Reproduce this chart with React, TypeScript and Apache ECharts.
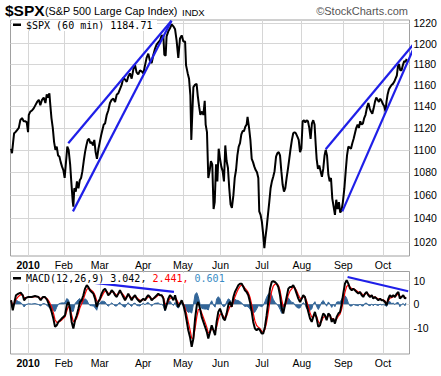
import React, { useEffect, useRef } from 'react';
import * as echarts from 'echarts';

// x unit: trading days since Jan 4 2010
const monthTicks = [0, 19, 38, 61, 82, 102, 124, 145, 167, 188];
const monthLabels = ['2010', 'Feb', 'Mar', 'Apr', 'May', 'Jun', 'Jul', 'Aug', 'Sep', 'Oct'];
const priceTicks = [1020, 1040, 1060, 1080, 1100, 1120, 1140, 1160, 1180, 1200, 1220];
const macdTicks = [-10, 0, 10];

const spxPrice: [number, number][] = [
  [-9.0,1101],[-8.5,1097],[-7.9,1107],[-7.4,1115],[-6.7,1116],[-5.8,1118],[-4.9,1120],[-4.1,1127],[-3.2,1129],[-2.3,1126],
  [-1.4,1126],[-0.7,1125],[0.0,1116],[0.4,1132],[1.2,1135],[2.1,1136],[3.0,1138],[3.9,1141],[4.8,1144],[5.7,1146],
  [6.5,1141],[7.4,1146],[8.3,1148],[9.2,1143],[9.9,1151],[10.6,1148],[11.3,1152],[11.8,1141],[12.4,1129],[13.1,1120],
  [13.8,1107],[14.5,1100],[15.2,1103],[15.9,1095],[16.6,1094],[17.3,1089],[18.0,1085],[18.7,1082],[19.4,1075],[20.1,1089],
  [20.8,1103],[21.5,1100],[22.3,1087],[22.9,1072],[23.7,1054],[24.0,1050],[24.5,1066],[25.3,1063],[25.9,1072],[26.7,1066],
  [27.4,1073],[28.1,1075],[28.8,1081],[29.5,1090],[30.2,1098],[30.9,1104],[31.6,1109],[32.3,1110],[33.0,1106],[33.7,1107],
  [34.4,1104],[35.1,1109],[35.8,1098],[36.5,1092],[37.3,1101],[38.0,1107],[38.7,1113],[39.4,1118],[40.1,1123],[40.8,1124],
  [41.7,1132],[42.5,1136],[43.4,1143],[44.3,1146],[45.2,1147],[46.1,1144],[47.0,1151],[47.8,1152],[48.7,1156],[49.6,1160],
  [50.5,1167],[51.4,1165],[52.3,1163],[53.1,1168],[54.0,1171],[54.9,1166],[55.8,1175],[56.7,1179],[57.5,1172],[58.4,1170],
  [59.3,1174],[60.2,1173],[61.1,1171],[62.0,1179],[62.8,1186],[63.7,1190],[64.6,1183],[65.5,1181],[66.4,1189],[67.3,1195],
  [68.1,1199],[69.0,1201],[69.9,1203],[70.8,1208],[71.7,1207],[72.2,1189],[72.9,1188],[73.4,1207],[74.3,1212],[75.2,1215],
  [76.1,1219],[77.0,1217],[77.9,1214],[78.7,1203],[79.6,1186],[80.5,1205],[81.4,1208],[82.3,1202],[83.2,1202],[83.7,1179],
  [84.6,1171],[85.3,1166],[86.0,1150],[86.5,1109],[87.0,1132],[87.6,1158],[88.4,1160],[89.3,1161],[89.9,1150],[90.6,1140],
  [91.3,1132],[92.2,1135],[92.9,1132],[93.6,1145],[94.1,1123],[94.8,1116],[95.5,1075],[96.2,1081],[96.9,1090],[97.6,1087],
  [98.3,1048],[98.9,1054],[99.6,1087],[100.3,1072],[101.0,1101],[101.7,1092],[102.4,1085],[103.1,1081],[103.8,1072],[104.5,1104],
  [105.2,1090],[105.9,1084],[106.6,1066],[107.3,1052],[108.0,1049],[108.8,1060],[109.5,1075],[110.2,1082],[110.9,1095],[111.6,1103],
  [112.3,1106],[113.0,1114],[113.7,1117],[114.4,1117],[115.1,1121],[115.8,1123],[116.3,1130],[117.1,1120],[117.8,1109],[118.5,1092],
  [119.2,1089],[119.9,1085],[120.6,1082],[121.3,1080],[122.0,1075],[122.5,1046],[123.2,1043],[123.9,1037],[124.6,1026],[125.2,1015],
  [125.7,1023],[126.4,1032],[127.1,1043],[127.8,1054],[128.5,1066],[129.2,1072],[129.9,1076],[130.6,1081],[131.4,1094],[132.1,1097],
  [132.8,1098],[133.5,1095],[134.2,1081],[134.9,1069],[135.6,1063],[136.3,1066],[137.0,1075],[137.7,1083],[138.4,1092],[139.1,1101],
  [139.8,1109],[140.5,1115],[141.2,1116],[141.9,1115],[142.7,1112],[143.4,1109],[144.1,1098],[144.8,1101],[145.5,1126],[146.2,1127],
  [146.9,1125],[147.6,1127],[148.3,1126],[149.0,1120],[149.7,1110],[150.4,1124],[151.1,1127],[151.8,1123],[152.4,1105],[152.9,1092],
  [153.6,1083],[154.3,1086],[155.0,1081],[155.7,1076],[156.4,1083],[157.1,1095],[157.7,1100],[158.4,1095],[159.1,1078],[159.8,1072],
  [160.5,1075],[161.2,1057],[161.9,1050],[162.6,1043],[163.3,1056],[164.0,1048],[164.7,1054],[165.4,1045],[166.1,1047],[166.8,1054],
  [167.6,1066],[168.3,1081],[169.0,1095],[169.7,1103],[170.4,1102],[171.1,1101],[171.8,1106],[172.5,1110],[173.2,1115],[173.9,1120],
  [174.6,1123],[175.3,1120],[176.0,1126],[176.7,1123],[177.4,1124],[178.1,1129],[178.8,1132],[179.6,1139],[180.3,1143],[181.0,1138],
  [181.7,1135],[182.4,1133],[183.1,1138],[183.8,1144],[184.5,1148],[185.2,1146],[185.9,1144],[186.6,1147],[187.3,1145],[188.0,1142],
  [188.7,1140],[189.4,1135],[189.9,1144],[190.5,1151],[191.2,1156],[191.9,1158],[192.6,1160],[193.3,1161],[194.0,1163],[194.7,1166],
  [195.4,1169],[196.0,1178],[196.5,1180],[197.2,1174],[197.9,1174],[198.6,1179],[199.3,1183],[200.0,1182],[200.6,1185]
];

const macdDays = [
  -9.0,-8.1,-7.2,-6.4,-5.1,-3.9,-2.8,-2.1,-1.1,0.2,1.9,3.7,5.5,6.7,7.8,9.0,10.2,11.3,
  12.5,13.4,14.3,15.2,16.1,17.0,17.8,18.7,19.6,20.5,21.4,22.2,23.1,24.0,24.9,25.8,26.7,27.5,28.4,29.3,
  30.2,31.1,31.9,32.8,33.7,34.6,35.5,36.4,37.2,38.1,39.0,39.9,40.8,41.7,42.5,43.4,44.3,45.2,46.1,47.0,
  47.8,48.7,49.6,50.5,51.4,52.3,53.1,54.0,54.9,55.8,56.7,57.6,58.4,59.3,60.2,61.1,62.0,62.9,63.7,64.6,
  65.5,66.4,67.3,68.2,69.0,69.9,70.8,71.7,72.6,73.4,74.3,75.2,76.1,77.0,77.9,78.7,79.6,80.5,81.4,82.3,
  83.2,84.0,84.9,85.8,86.7,87.6,88.5,89.4,90.2,91.1,92.0,92.9,93.8,94.7,95.5,96.4,97.3,98.2,99.1,99.9,
  100.8,101.7,102.6,103.5,104.3,105.2,106.1,107.0,107.9,108.8,109.6,110.5,111.4,112.3,113.2,114.1,114.9,115.8,116.7,117.6,
  118.5,119.3,120.2,121.1,122.0,122.9,123.8,124.6,125.5,126.4,127.3,128.2,129.1,129.9,130.8,131.7,132.6,133.5,134.4,135.2,
  136.1,137.0,137.9,138.8,139.7,140.5,141.4,142.3,143.2,144.1,145.0,145.8,146.7,147.6,148.5,149.4,150.3,151.1,152.0,152.9,
  153.8,154.7,155.6,156.4,157.3,158.2,159.1,160.0,160.9,161.7,162.6,163.5,164.4,165.3,166.2,167.0,167.9,168.8,169.7,170.6,
  171.5,172.3,173.2,174.1,175.0,175.9,176.8,177.6,178.5,179.4,180.3,181.2,182.1,182.9,183.8,184.7,185.6,186.5,187.3,188.2,
  189.1,190.0,190.9,191.7,192.6,193.5,194.4,195.3,196.2,197.0,197.9,198.8,199.7,200.2
];

const macdLine = [
  1.7,-2.5,1.0,3.8,4.5,4.9,3.8,1.7,2.7,3.1,3.1,3.5,3.1,1.7,3.1,3.1,1.7,-0.4,-3.2,-6.0,
  -9.5,-8.8,-7.4,-6.7,-6.0,-5.3,-4.6,-0.4,1.0,-1.8,-7.4,-10.2,-6.7,-4.6,-1.8,1.0,1.7,3.8,6.6,8.0,
  7.3,5.9,5.2,4.5,2.4,-1.1,1.0,2.4,4.5,5.9,6.6,5.2,3.8,4.5,5.9,5.2,3.8,3.1,4.5,5.9,
  4.5,3.1,1.7,3.1,4.5,3.1,1.7,3.1,3.8,2.4,1.7,1.0,1.7,2.4,1.7,3.1,3.8,3.1,1.7,2.4,
  3.1,3.8,4.5,3.8,3.8,2.4,-2.5,-0.4,2.4,3.8,3.1,1.7,3.8,1.0,-1.1,0.3,1.7,-0.4,-3.2,-6.7,
  -10.9,-13.7,-17.9,-14.4,-6.0,-0.4,1.0,-1.8,-5.3,-7.4,-9.5,-11.6,-14.4,-11.6,-8.8,-10.9,-13.0,-7.4,-3.2,-1.8,
  -3.9,-6.0,-6.7,-3.9,-0.4,1.0,-1.1,3.1,5.2,6.6,8.0,8.7,8.7,7.3,5.9,5.2,3.8,1.0,-3.2,-7.4,
  -10.2,-10.9,-10.2,-10.9,-12.3,-12.3,-9.5,-4.6,1.0,6.6,9.4,9.7,9.4,8.7,7.3,3.8,-1.8,-3.9,-0.4,3.1,
  6.6,7.3,7.3,8.0,6.6,4.5,2.4,1.0,2.4,3.8,3.1,-0.4,-3.2,-6.0,-7.4,-5.3,-3.2,-6.0,-9.5,-8.8,
  -6.0,-3.9,-4.6,-6.7,-3.9,-4.6,-7.4,-6.0,-8.1,-5.3,-3.9,-3.2,0.3,4.5,8.7,10.1,8.7,6.6,5.9,6.6,
  5.9,5.2,4.5,5.2,3.8,3.1,4.5,5.2,3.8,3.1,3.8,2.4,3.1,2.4,1.7,2.4,1.7,1.7,1.0,-0.4,
  2.4,3.8,3.1,3.8,3.1,4.5,5.2,2.4,3.1,3.8,2.4,3.0
];

const signalLine = [
  1.7,-0.4,0.3,2.0,3.3,4.1,4.0,2.8,2.8,2.9,3.0,3.2,3.2,2.4,2.8,2.9,2.3,1.0,-1.1,-3.5,
  -6.5,-7.6,-7.5,-7.1,-6.6,-5.9,-5.3,-2.8,-0.9,-1.4,-4.4,-7.3,-7.0,-5.8,-3.8,-1.4,0.2,2.0,4.3,6.2,
  6.8,6.4,5.8,5.2,3.8,1.4,1.2,1.8,3.2,4.6,5.6,5.4,4.6,4.6,5.3,5.2,4.5,3.8,4.2,5.1,
  4.8,4.0,2.9,3.0,3.8,3.4,2.6,2.8,3.3,2.9,2.3,1.7,1.7,2.0,1.9,2.5,3.1,3.1,2.4,2.4,
  2.7,3.3,3.9,3.8,3.8,3.1,0.3,-0.1,1.2,2.5,2.8,2.2,3.0,2.0,0.5,0.4,1.0,0.3,-1.5,-4.1,
  -7.5,-10.6,-14.2,-14.3,-10.2,-5.3,-2.2,-2.0,-3.6,-5.5,-7.5,-9.6,-12.0,-11.8,-10.3,-10.6,-11.8,-9.6,-6.4,-4.1,
  -4.0,-5.0,-5.9,-4.9,-2.7,-0.8,-1.0,1.1,3.1,4.9,6.4,7.6,8.1,7.7,6.8,6.0,4.9,3.0,-0.1,-3.7,
  -7.0,-8.9,-9.6,-10.2,-11.3,-11.8,-10.6,-7.6,-3.3,1.6,5.5,7.6,8.5,8.6,8.0,5.9,2.0,-1.0,-0.7,1.2,
  3.9,5.6,6.5,7.2,6.9,5.7,4.0,2.5,2.5,3.1,3.1,1.4,-0.9,-3.5,-5.4,-5.4,-4.3,-5.1,-7.3,-8.1,
  -7.0,-5.5,-5.0,-5.9,-4.9,-4.7,-6.1,-6.0,-7.1,-6.2,-5.0,-4.1,-1.9,1.3,5.0,7.5,8.1,7.3,6.6,6.6,
  6.2,5.7,5.1,5.1,4.5,3.8,4.1,4.7,4.2,3.7,3.7,3.0,3.0,2.7,2.2,2.3,2.0,1.8,1.4,0.5,
  1.4,2.6,2.8,3.3,3.2,3.8,4.5,3.4,3.2,3.5,3.0,2.4
];

const histogram = [
  0,-2.1,0.7,1.8,1.2,0.8,-0.2,-1.1,-0.1,0.2,0.1,0.3,-0.1,-0.7,0.3,0.2,-0.6,-1.4,-2.1,-2.5,
  -3.0,-1.2,0.1,0.4,0.6,0.6,0.7,2.4,1.9,-0.4,-3.0,-2.9,0.3,1.2,2.0,2.4,1.5,1.8,2.3,1.8,
  0.5,-0.5,-0.6,-0.7,-1.4,-2.5,-0.2,0.6,1.3,1.3,1.0,-0.2,-0.8,-0.1,0.6,0.0,-0.7,-0.7,0.3,0.8,
  -0.3,-0.9,-1.2,0.1,0.7,-0.3,-0.9,0.3,0.5,-0.5,-0.6,-0.7,0,0.4,-0.2,0.6,0.7,0,-0.7,0,
  0.4,0.5,0.6,0,0,-0.7,-2.8,-0.3,1.2,1.3,0.3,-0.5,0.8,-1.0,-1.6,-0.1,0.7,-0.7,-1.7,-2.6,
  -3.4,-3.1,-3.7,-0.1,4.2,4.9,3.2,0.2,-1.7,-1.9,-2.0,-2.0,-2.4,0.2,1.5,-0.3,-1.2,2.2,3.2,2.3,
  0.1,-1.0,-0.8,1.0,2.3,1.8,-0.1,2.0,2.1,1.7,1.6,1.1,0.6,-0.4,-0.9,-0.8,-1.1,-2.0,-3.1,-3.7,
  -3.2,-2.0,-0.6,-0.7,-1.0,-0.5,1.1,3.0,4.3,5.0,3.9,2.1,0.9,0.1,-0.7,-2.1,-3.8,-2.9,0.3,1.9,
  2.7,1.7,0.8,0.8,-0.3,-1.2,-1.6,-1.5,-0.1,0.7,0,-1.8,-2.3,-2.5,-2.0,0.1,1.1,-0.9,-2.2,-0.7,
  1.0,1.6,0.4,-0.8,1.0,0.1,-1.3,0,-1.0,0.9,1.1,0.9,2.2,3.2,3.7,2.6,0.6,-0.7,-0.7,0,
  -0.3,-0.5,-0.6,0.1,-0.7,-0.7,0.4,0.5,-0.4,-0.6,0.1,-0.6,0.1,-0.3,-0.5,0.1,-0.3,-0.1,-0.4,-0.9,
  1.0,1.2,0.3,0.5,-0.1,0.7,0.7,-1.0,-0.1,0.3,-0.6,0.6
];

const priceTrendLines: [number, number][][] = [
  [[21.3, 1106], [76.0, 1222.5]],
  [[23.8, 1046], [76.0, 1222.5]],
  [[157.7, 1100.5], [204.2, 1199.2]],
  [[166.5, 1046], [204.3, 1195.3]],
];
const macdTrendLines: [number, number][][] = [
  [[30.7, 9.4], [77.3, 5.2]],
  [[169.3, 11.5], [201.4, 5.5]],
];

const FONT = '"Liberation Sans", Arial, sans-serif';
const MONO = '"DejaVu Sans Mono", monospace';

export default function App() {
  const ref = useRef<HTMLDivElement>(null);
  useEffect(() => {
    if (!ref.current) return;
    const chart = echarts.init(ref.current, null, { renderer: 'svg' });
    const xAxisFor = (gi: number, margin: number) => ({
      type: 'value',
      gridIndex: gi,
      min: -9.3,
      max: 202.1,
      axisLine: { show: false },
      axisTick: { show: false, customValues: monthTicks },
      axisLabel: {
        customValues: monthTicks,
        margin,
        color: '#000',
        fontSize: 10.5,
        fontFamily: FONT,
        formatter: (v: number) => {
          const i = monthTicks.indexOf(Math.round(v));
          if (i === 0) return '{b|' + monthLabels[0] + '}';
          return i >= 0 ? monthLabels[i] : '';
        },
        rich: { b: { fontWeight: 'bold', fontSize: 10.5, fontFamily: FONT, color: '#000' } },
      },
      splitLine: { show: true, lineStyle: { color: '#d6d6d6', width: 1 } },
    });
    const line = (data: any, xi: number, color: string, width: number, z: number) => ({
      type: 'line',
      xAxisIndex: xi,
      yAxisIndex: xi,
      data,
      showSymbol: false,
      symbol: 'none',
      lineStyle: { color, width },
      z,
      silent: true,
    });
    const option: any = {
      animation: false,
      backgroundColor: '#ffffff',
      grid: [
        { left: 10.5, top: 20, width: 399, height: 236, show: true, borderColor: '#a0a0a0', borderWidth: 1 },
        { left: 10.5, top: 271.5, width: 399, height: 82.5, show: true, borderColor: '#a0a0a0', borderWidth: 1 },
      ],
      xAxis: [xAxisFor(0, 3), xAxisFor(1, 3)],
      yAxis: [
        {
          type: 'log',
          logBase: 10,
          gridIndex: 0,
          position: 'right',
          min: 1008.5,
          max: 1223.3,
          axisLine: { show: false },
          axisTick: { show: false, customValues: priceTicks },
          axisLabel: {
            customValues: priceTicks,
            margin: 4,
            color: '#000',
            fontSize: 10.5,
            fontFamily: FONT,
            formatter: (v: number) => String(Math.round(v)),
          },
          splitLine: { show: true, lineStyle: { color: '#d6d6d6', width: 1 } },
        },
        {
          type: 'value',
          gridIndex: 1,
          position: 'right',
          min: -20.9,
          max: 13.8,
          axisLine: { show: false },
          axisTick: { show: false, customValues: macdTicks },
          axisLabel: {
            customValues: macdTicks,
            margin: 4,
            color: '#000',
            fontSize: 10.5,
            fontFamily: FONT,
            formatter: (v: number) => String(Math.round(v)),
          },
          splitLine: { show: true, lineStyle: { color: '#d6d6d6', width: 1 } },
        },
      ],
      series: [
        line(spxPrice, 0, '#000000', 2, 3),
        ...priceTrendLines.map((d) => ({ ...line(d, 0, '#1f1fe8', 2.2, 5), clip: false })),
        {
          ...line(macdDays.map((d, i) => [d, histogram[i]]), 1, '#336699', 1, 2),
          areaStyle: { color: '#336699', opacity: 1, origin: 0 },
        },
        line(macdDays.map((d, i) => [d, signalLine[i]]), 1, '#ff0000', 1.2, 3),
        line(macdDays.map((d, i) => [d, macdLine[i]]), 1, '#000000', 2, 4),
        ...macdTrendLines.map((d) => ({ ...line(d, 1, '#1f1fe8', 2.2, 5), clip: false })),
      ],
      graphic: [
        { type: 'text', left: 5, top: 2.5, style: { text: '$SPX', font: 'bold 15.5px ' + FONT, fill: '#000' } },
        { type: 'text', left: 45, top: 5.5, style: { text: '(S&P 500 Large Cap Index)', font: '10.8px ' + FONT, fill: '#000' } },
        { type: 'text', left: 182, top: 7, style: { text: 'INDX', font: '9.5px ' + FONT, fill: '#000' } },
        { type: 'text', right: 33, top: 5, style: { text: '\u00A9StockCharts.com', font: '11px ' + FONT, fill: '#555' } },
        { type: 'rect', shape: { x: 12, y: 20, width: 145, height: 11 }, style: { fill: '#fff' }, z: 10 },
        { type: 'rect', shape: { x: 13, y: 23.5, width: 8, height: 2.5 }, style: { fill: '#000' }, z: 11 },
        { type: 'text', x: 26, y: 25, z: 11, style: { text: '$SPX (60 min) 1184.71', font: '10px ' + MONO, fill: '#000', verticalAlign: 'middle' } },
        { type: 'rect', shape: { x: 12, y: 273, width: 218, height: 11 }, style: { fill: '#fff' }, z: 10 },
        { type: 'rect', shape: { x: 13, y: 277, width: 8, height: 2.5 }, style: { fill: '#000' }, z: 11 },
        {
          type: 'text', x: 26, y: 278.5, z: 11,
          style: {
            text: '{k|MACD(12,26,9) 3.042, }{r|2.441, }{b|0.601}',
            verticalAlign: 'middle',
            rich: {
              k: { font: '10px ' + MONO, fill: '#000' },
              r: { font: '10px ' + MONO, fill: '#ff0000' },
              b: { font: '10px ' + MONO, fill: '#3a8cc4' },
            },
          },
        },
      ],
    };
    chart.setOption(option);
    return () => chart.dispose();
  }, []);
  return <div ref={ref} style={{ position: 'absolute', left: 0, top: 0, width: 441, height: 376 }} />;
}
